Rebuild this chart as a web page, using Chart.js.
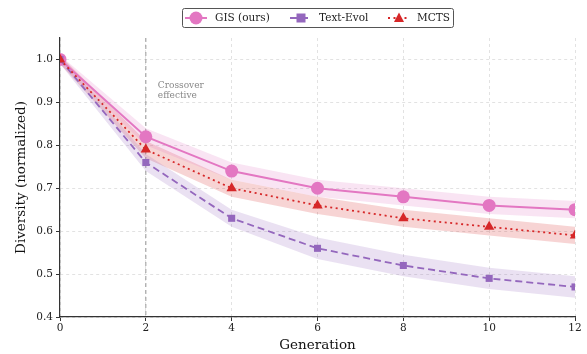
<!DOCTYPE html>
<html><head><meta charset="utf-8">
<script src="https://cdn.jsdelivr.net/npm/chart.js@4"></script>
<style>html,body{margin:0;padding:0;background:#fff}#w{width:587px;height:354px}</style>
</head><body><div id="w"><canvas id="c" width="587" height="354"></canvas></div>
<script>
const generations = [0, 2, 4, 6, 8, 10, 12];
const gis = [1.0, 0.82, 0.74, 0.70, 0.68, 0.66, 0.65];
const gisBand = [0.01, 0.02, 0.02, 0.02, 0.02, 0.02, 0.02];
const textEvol = [1.0, 0.76, 0.63, 0.56, 0.52, 0.49, 0.47];
const textEvolBand = [0.01, 0.02, 0.02, 0.025, 0.025, 0.025, 0.025];
const mcts = [1.0, 0.79, 0.70, 0.66, 0.63, 0.61, 0.59];
const mctsBand = [0.01, 0.02, 0.02, 0.02, 0.02, 0.02, 0.02];
const yTicks = [0.4, 0.5, 0.6, 0.7, 0.8, 0.9, 1.0];
const xTicks = [0, 2, 4, 6, 8, 10, 12];
const seriesNames = ['GIS (ours)', 'Text-Evol', 'MCTS'];
const crossoverX = 2;
const crossoverLabel = ['Crossover', 'effective'];

const PINK = '#e377c2', PURPLE = '#9467bd', RED = '#d62728';
const FONT = "'DejaVu Serif', serif";

function pts(vals, off, sign) {
  return generations.map((g, i) => ({x: g, y: vals[i] + (off ? sign * off[i] : 0)}));
}
function band(vals, off, color, order) {
  return [
    {data: pts(vals, off, 1), borderWidth: 0, pointRadius: 0, fill: false, order: order, backgroundColor: color, tension: 0},
    {data: pts(vals, off, -1), borderWidth: 0, pointRadius: 0, fill: '-1', order: order, backgroundColor: color, tension: 0}
  ];
}

const datasets = [
  ...band(gis, gisBand, 'rgba(227,119,194,0.2)', 10),
  ...band(textEvol, textEvolBand, 'rgba(148,103,189,0.2)', 10),
  ...band(mcts, mctsBand, 'rgba(214,39,40,0.2)', 10),
  {label: seriesNames[0], data: pts(gis), borderColor: PINK, backgroundColor: PINK, borderWidth: 2,
   pointStyle: 'circle', pointRadius: 6.5, pointBorderWidth: 0, order: 3, fill: false},
  {label: seriesNames[1], data: pts(textEvol), borderColor: PURPLE, backgroundColor: PURPLE, borderWidth: 1.8,
   borderDash: [7, 4], pointStyle: 'rect', pointRadius: 5, pointBorderWidth: 0, order: 2, fill: false},
  {label: seriesNames[2], data: pts(mcts), borderColor: RED, backgroundColor: RED, borderWidth: 1.8,
   borderDash: [2, 3.5], pointStyle: 'triangle', pointRadius: 6, pointBorderWidth: 0, order: 1, fill: false}
];

const overlay = {
  id: 'overlay',
  beforeDatasetsDraw(chart) {
    const {ctx, scales: {x, y}} = chart;
    const px = x.getPixelForValue(crossoverX);
    ctx.save();
    ctx.strokeStyle = '#999';
    ctx.lineWidth = 1;
    ctx.setLineDash([4, 3]);
    ctx.beginPath();
    ctx.moveTo(px, y.top);
    ctx.lineTo(px, y.bottom);
    ctx.stroke();
    ctx.restore();
  },
  afterDraw(chart) {
    const {ctx, scales: {x, y}} = chart;
    ctx.save();
    ctx.fillStyle = '#888';
    ctx.font = "9px " + FONT;
    ctx.textBaseline = 'middle';
    const lx = x.getPixelForValue(2.28);
    const ly = y.getPixelForValue(0.94);
    crossoverLabel.forEach((t, i) => ctx.fillText(t, lx, ly + i * 10.5));
    // legend
    const bx = 182.5, by = 8.5, bw = 271, bh = 19;
    ctx.setLineDash([]);
    ctx.fillStyle = '#fff';
    ctx.strokeStyle = '#555';
    ctx.lineWidth = 1;
    ctx.beginPath();
    ctx.roundRect(bx, by, bw, bh, 2);
    ctx.fill();
    ctx.stroke();
    const items = [
      {x: 185, ds: datasets[6], tx: 215},
      {x: 290, ds: datasets[7], tx: 319},
      {x: 388, ds: datasets[8], tx: 417}
    ];
    const cy = by + bh / 2;
    items.forEach(it => {
      const ds = it.ds;
      ctx.strokeStyle = ds.borderColor;
      ctx.lineWidth = ds.borderWidth;
      ctx.setLineDash(ds.borderDash || []);
      ctx.beginPath();
      ctx.moveTo(it.x, cy);
      ctx.lineTo(it.x + 22, cy);
      ctx.stroke();
      ctx.setLineDash([]);
      ctx.fillStyle = ds.backgroundColor;
      ctx.beginPath();
      if (ds.pointStyle === 'circle') ctx.arc(it.x + 11, cy, ds.pointRadius, 0, Math.PI * 2);
      else if (ds.pointStyle === 'rect') ctx.rect(it.x + 11 - 4.5, cy - 4.5, 9, 9);
      else { ctx.moveTo(it.x + 11, cy - 5.5); ctx.lineTo(it.x + 16, cy + 4); ctx.lineTo(it.x + 6, cy + 4); ctx.closePath(); }
      ctx.fill();
      ctx.fillStyle = '#222';
      ctx.font = "10.5px " + FONT;
      ctx.textBaseline = 'middle';
      ctx.fillText(ds.label, it.tx, cy);
    });
    ctx.restore();
  }
};

new Chart(document.getElementById('c'), {
  type: 'line',
  data: {datasets},
  plugins: [overlay],
  options: {
    responsive: false,
    animation: false,
    layout: {padding: {top: 38, right: 12, left: 13, bottom: 0}},
    plugins: {legend: {display: false}, tooltip: {enabled: false}},
    scales: {
      x: {
        type: 'linear', min: 0, max: 12,
        afterBuildTicks: s => { s.ticks = xTicks.map(v => ({value: v})); },
        afterFit: s => { s.height = 37; },
        ticks: {font: {family: FONT, size: 10.5}, color: '#222', padding: 1, maxRotation: 0},
        grid: {color: '#e2e2e2', tickColor: '#333', tickLength: 4, tickBorderDash: []},
        border: {display: true, color: '#333', width: 1.2, dash: [3, 3]},
        title: {display: true, text: 'Generation', font: {family: FONT, size: 13.5}, color: '#111', padding: {top: 0, bottom: 0}}
      },
      y: {
        type: 'linear', min: 0.4, max: 1.05,
        afterBuildTicks: s => { s.ticks = yTicks.map(v => ({value: v})); },
        afterFit: s => { s.width = 47; },
        ticks: {font: {family: FONT, size: 10.5}, color: '#222', padding: 3, callback: v => v.toFixed(1)},
        grid: {color: '#e2e2e2', tickColor: '#333', tickLength: 4, tickBorderDash: []},
        border: {display: true, color: '#333', width: 1.2, dash: [3, 3]},
        title: {display: true, text: 'Diversity (normalized)', font: {family: FONT, size: 13.5}, color: '#111', padding: {top: 0, bottom: 0}}
      }
    }
  }
});
</script>
</body></html>
